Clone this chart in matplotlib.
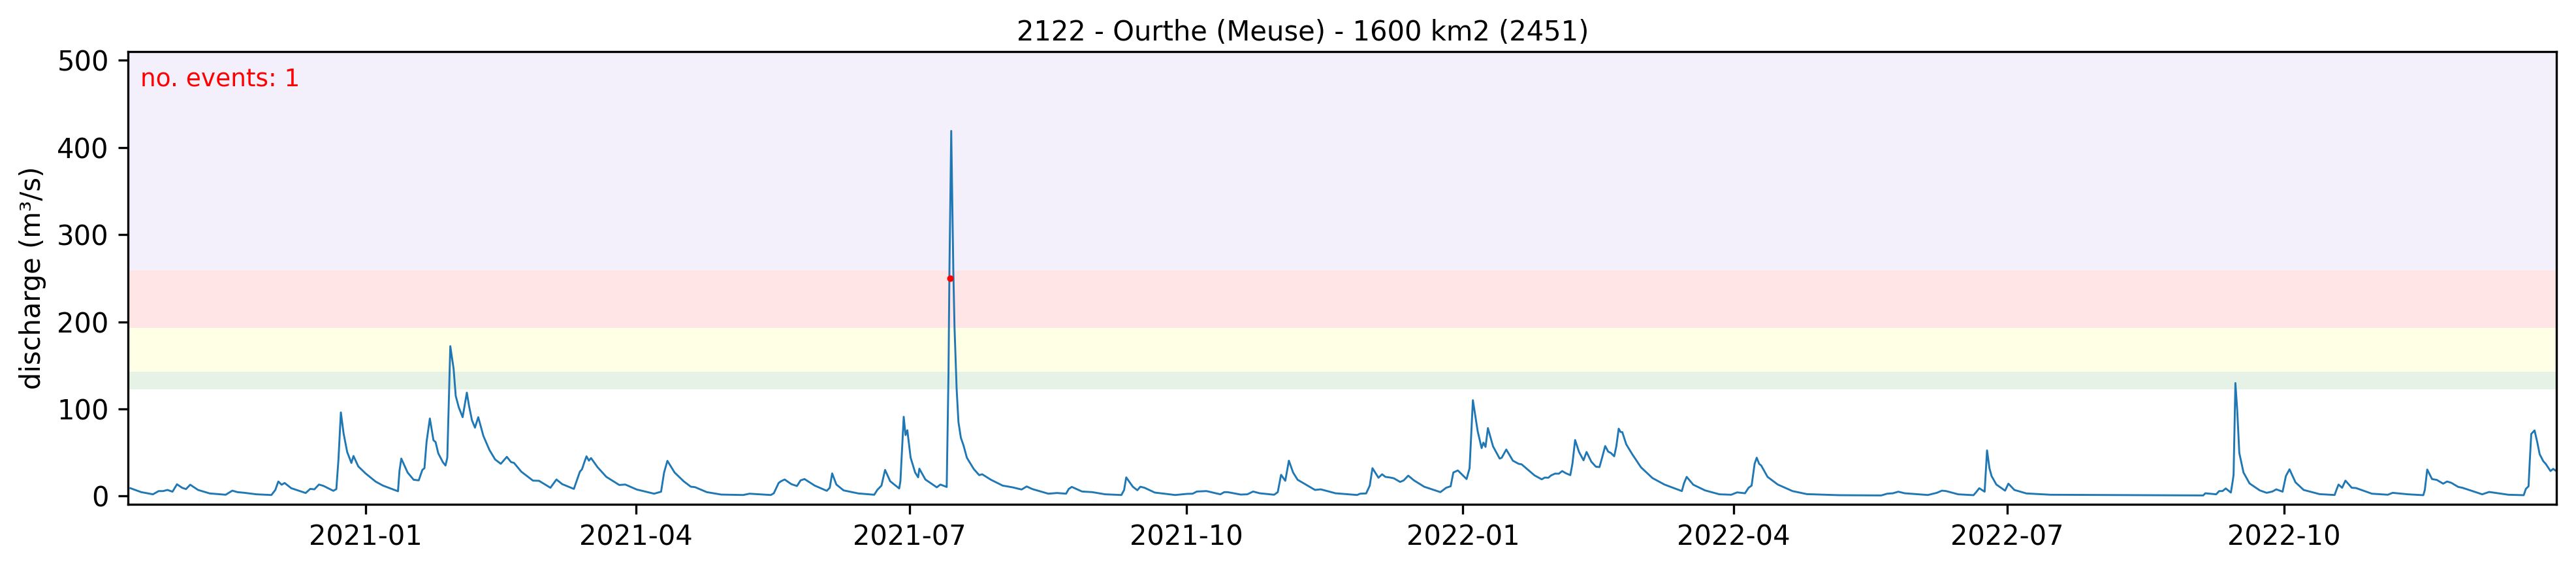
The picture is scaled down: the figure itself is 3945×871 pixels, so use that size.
import pandas as pd
import matplotlib
matplotlib.use('Agg')
import matplotlib.pyplot as plt
import matplotlib.dates as mdates

titulo = '2122 - Ourthe (Meuse) - 1600 km2 (2451)'

# days counted from 2021-01-01 (turning points of the curve)
dias = [-78.2, -74.6, -70.7, -68.8, -67.3, -65.9, -64.2, -62.7, -61, -59.7, -58.3, -55.7, -51.8, -46.5, -44.3, -42.6,
        -40.2, -36.3, -31.3, -30, -29, -27.9, -26.9, -24.7, -19.9, -18.4, -17, -15.5, -14, -10.7, -9.7, -9, -8.2,
        -7.3, -6.1, -4.7, -4, -2.4, 0, 3.4, 5.8, 10.8, 11.3, 11.9, 14, 16, 17.7, 18.9, 19.6, 20.3, 21.4, 22.6, 23.3,
        24.2, 25.7, 26.6, 27.2, 28.2, 29.3, 30, 31, 32.3, 33.7, 34.4, 35.4, 36.4, 37.5, 39.2, 41.2, 43.1, 45, 47,
        48.4, 49.4, 51.8, 55.7, 57.7, 61.5, 63.5, 65.4, 69.3, 71.3, 72, 72.8, 73.5, 74.3, 75, 77.2, 80.1, 84.4, 86.4,
        90.2, 96, 98.3, 99.3, 100.4, 102.8, 105.8, 108.2, 109.6, 113.5, 118.3, 125.6, 127.7, 134.8, 135.8, 137.4,
        138.2, 139.4, 141.6, 143.5, 144.7, 146, 149.4, 153.4, 154.4, 155.2, 156.6, 159, 163.9, 169.2, 170.2, 171.6,
        172.8, 174.5, 177.5, 177.9, 179, 179.6, 180.2, 181.3, 182.8, 183.8, 184.2, 186.2, 190, 191.2, 193.3, 193.9,
        194.2, 194.8, 195.5, 195.9, 196.4, 196.6, 197.2, 198, 198.9, 200, 202.3, 204.1, 205.1, 208, 211.9,
        215.2, 218.2, 219.9,
        221.8, 227.1, 230, 233, 233.9, 234.9, 238.3, 241.7, 246, 251.4, 252.3, 253, 255.2, 256.7, 257.7, 259.1,
        262.5, 269.3, 273.2, 275.1, 276.5, 279.7, 284.3, 285.6, 286.7, 291.1, 293.3, 295.2, 297.4, 302.2, 303.4,
        304.5, 305.9, 307.1, 308.5, 310, 315.8, 317.7, 322.6, 329.8, 330.8, 332.8, 334, 334.9, 336.9, 338.1, 339.2,
        340.5, 342, 344.1, 345.3, 346.8, 348.7, 352.1, 357.5, 359.4, 360.9, 361.8, 363.3, 366.2, 367.2, 368.3, 369.9,
        371.2, 371.8, 372.5, 373.3, 375, 377.2, 377.9, 379.4, 381.6, 383.5, 384.5, 388.8, 391.2, 392.2, 393.4, 394.3,
        395.6, 396.9, 398, 399.2, 400.7, 401.4, 402.3, 403.6, 405.1, 406.1, 407.7, 409.2, 410.4, 411.3, 412.3, 413.3,
        414.2, 415.3, 416, 416.8, 417.4, 418, 419.3, 421.3, 424.2, 428, 432, 437.8, 438.5, 439.4, 441.6, 445.5,
        450.3, 454.2, 456.2, 458.8, 460, 461, 462, 462.7, 463.5, 464.2, 466.3, 469.7, 474.6, 479.4, 490.1, 504.1,
        506.1, 508, 509.8, 511.9, 519.6, 522.6, 524.3, 525.7, 529.7, 534.8, 535.7, 536.7, 538.5, 539.3, 540.1, 540.8,
        542.4, 545.3, 546.4, 548.4, 552.4, 560.4, 611.2, 611.9, 615.5, 616.5, 617.6, 618.7, 620.4, 621, 621.3, 621.9,
        622.5, 623.2, 624.6, 626.6, 630, 632.3, 634.2, 635.5, 637.6, 638.7, 639.9, 641.9, 644.6, 649.9, 654.9, 655.5,
        656.2, 657.4, 658.5, 660.6, 662, 667.3, 672.6, 674.2, 679.3, 684.4, 684.9, 685.7, 687.3, 688.9, 691, 692.3,
        693.7, 696, 697.4, 704, 706.3, 712.7, 717.8, 718.5, 719.4, 719.8, 720.3, 721.4, 722.3, 723.1, 724.3, 725.1,
        726.7, 727.6, 728.3]

vazao = [9, 4.5, 2, 5.7, 5.7, 7, 5, 13.5, 9.5, 8, 13, 7, 3, 1.5, 6.2, 4.5,
         3.7, 2, 1.2, 7, 16.7, 13, 15, 9, 3.5, 8.2, 7.7, 13.2, 11.7, 6, 8, 42, 96,
         72, 50.6, 38, 46, 34, 26, 16.5, 12, 5.5, 29, 43, 27, 18.7, 18, 30, 32, 62, 89, 64, 62,
         49, 39, 35, 44, 172, 146, 115, 102, 90.5, 118.7, 104, 87, 78.5, 90.5, 69, 53, 42, 37, 45,
         39, 38, 28, 17.7, 17.5, 9.5, 19, 13.7, 8.2, 28, 30.7, 39, 45.6, 40.6, 43.6, 33, 22, 12.7, 13.2,
         7.5, 2.7, 5, 27, 40.4, 27, 17, 10.7, 10.2, 4.5, 1.7, 1.2, 2.7, 1.2, 3.2, 15,
         17, 19, 13.7, 11.5, 18, 19.5, 12, 6, 9.5, 26, 13.2, 6.5, 3, 1.5, 7, 12,
         30, 17, 8.7, 17, 91, 70, 75.5, 44, 27, 21.5, 31.4, 19, 10, 13.2, 10.4, 143,
         258, 419, 258, 193, 143, 123, 85, 67, 58, 44, 31, 24, 25, 18.7, 12,
         10, 7.5, 11,
         8, 2.7, 3.5, 2.7, 8.2, 10.5, 5.2, 4.5, 2, 1.2, 7, 21.4, 10.7, 6.7, 10.7, 9.5,
         4, 1.2, 2.5, 2.7, 5.2, 5.7, 2, 4.5, 4.5, 1.7, 2, 5.2, 3.2, 1.5, 4.5,
         24.4, 17.5, 40.6, 27, 18.7, 7, 7.7, 3.2, 1.2, 2.7, 3, 12, 32, 21, 25, 22,
         21.4, 20.4, 16.2, 18, 23.4, 18, 10.7, 4.5, 9.5, 11.2, 27, 29.4, 19.5, 32, 110, 74.3,
         55, 61.3, 56.4, 78, 57, 43, 44, 53.4, 40.6, 37, 36.4, 23.7, 19.2, 21.2, 21, 23.7,
         25.7, 25.7, 28.7, 26.2, 24, 37, 64.3, 50.6, 41, 50.6, 39.4, 33.7, 33.2, 44.4, 57.4, 51,
         49.4, 45.6, 57, 77.3, 73.6, 73.3, 59.4, 48, 33, 20.7, 13.2, 5.7, 14.5, 22, 13, 6.5,
         2, 1.5, 4.2, 3.2, 9.5, 12, 37, 44, 37, 35, 22, 13.2, 5.7, 2.2, 1, 0.7,
         2.7, 3.2, 5, 3.2, 1.2, 3.7, 6.2, 5.7, 2, 1, 4.5, 9, 5, 52.4, 32, 23,
         13.2, 6.2, 14.2, 7, 3, 1.5, 0.7, 3.2, 2, 5.7, 5.7, 8.7, 4, 17, 24.4, 129.7,
         99, 49.4, 27, 14.5, 6.5, 3.7, 5.2, 7.7, 5, 23, 30.7, 15.7, 7, 2.2, 1.2, 7,
         13.2, 9.5, 17.7, 9.5, 9.2, 2.7, 1.5, 3.7, 2, 1, 7, 30.4, 19.5, 18.5, 14.2, 16.7,
         15.2, 10.5, 9.5, 2, 4.7, 1.5, 1, 8.2, 11.2, 39.4, 71.3, 75.3, 61.8, 48, 40, 37,
         28.7, 31.2, 29.4]

# one event, marked on the rising limb of the july 2021 flood
evento_dia = [194.35]
evento_valor = [249.7]

# return period bands (lower, upper, colour)
limites = [122.8, 142.8, 193.2, 258.5, 510]
cores = ['green', 'yellow', 'red', 'mediumpurple']

inicio = pd.Timestamp('2021-01-01')
datas = inicio + pd.to_timedelta(dias, unit='D')
datas_evento = inicio + pd.to_timedelta(evento_dia, unit='D')

largura, altura = 3945, 871
fig = plt.figure(figsize=(largura / 300, altura / 300), dpi=300)
ax = fig.add_axes([196 / largura, 1 - 772 / altura, 3719 / largura, 693 / altura])

for i in range(len(cores)):
    ax.axhspan(limites[i], limites[i + 1], color=cores[i], alpha=0.1, linewidth=0)

ax.plot(datas, vazao, color='tab:blue', linewidth=0.7)
ax.plot(datas_evento, evento_valor, 'o', color='red', markersize=2.4, markeredgewidth=0)

ax.set_xlim(pd.Timestamp('2020-10-14'), pd.Timestamp('2022-12-30 16:00'))
ax.set_ylim(-9.5, 510)
ax.xaxis.set_major_locator(mdates.MonthLocator(bymonth=[1, 4, 7, 10]))
ax.xaxis.set_major_formatter(mdates.DateFormatter('%Y-%m'))
ax.set_ylabel('discharge (m³/s)')
# title sits a bit left of the axes centre in the original
ax.set_title(titulo, fontsize=10, pad=4, x=0.4837)
ax.text(0.005, 0.965, 'no. events: 1', transform=ax.transAxes, color='red', fontsize=9, va='top')

fig.savefig('out.png', dpi=300)
